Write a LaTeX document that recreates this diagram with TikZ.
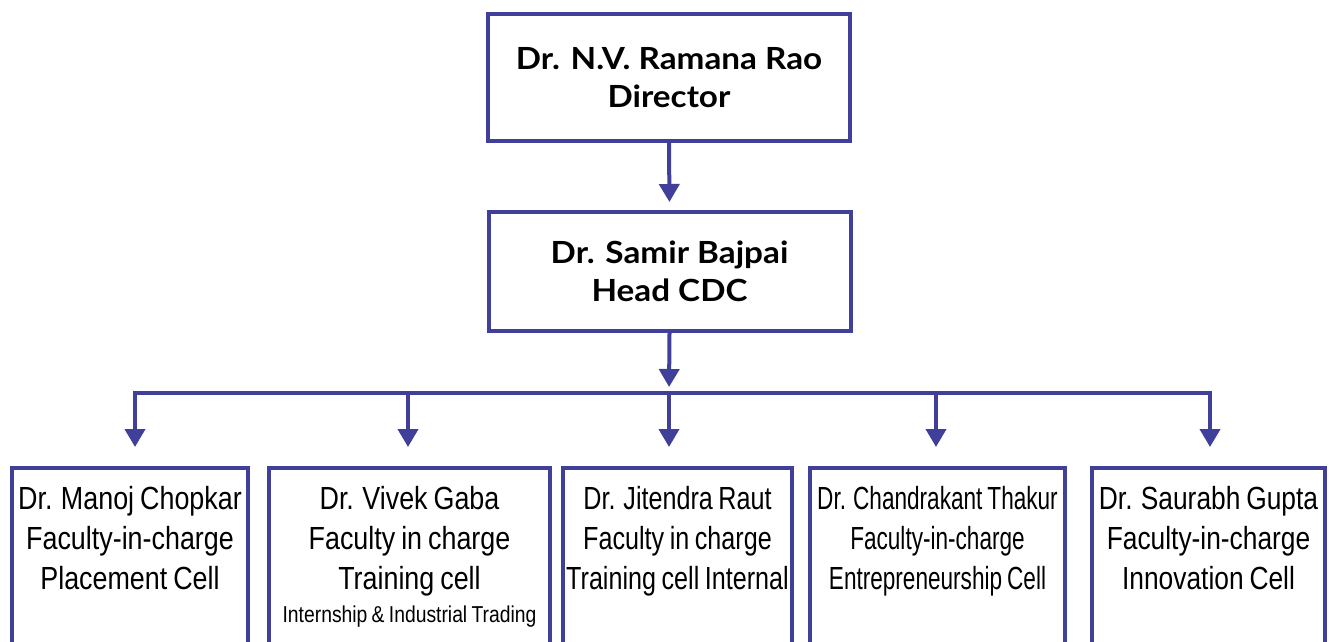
\documentclass[tikz,border=0pt]{standalone}
\usepackage{fontspec}
\usepackage{graphicx}
\setmainfont{Lato}
\newfontfamily\topfont[FakeStretch=1.09]{Lato}
\newfontfamily\condfont[FakeStretch=0.84,WordSpace=0.8]{Liberation Sans}
\usetikzlibrary{arrows.meta}
\definecolor{boxblue}{HTML}{40409A}
\tikzset{
  x=1pt, y=-1pt,
  topbox/.style={draw=boxblue, line width=4pt, fill=white, minimum width=362pt, inner sep=0pt,
    align=center, font=\topfont\fontsize{30.5}{38}\selectfont\bfseries},
  botbox/.style={draw=boxblue, line width=4pt, fill=white, inner sep=0pt, anchor=north},
  conn/.style={draw=boxblue, line width=4pt},
  arr/.style={conn, -{Triangle[width=20pt,length=18pt]}},
}
\newcommand{\botcontent}[3]{\begin{minipage}[t][220pt][t]{#1pt}\centering\condfont\fontsize{32}{40}\selectfont\vspace{13pt}\scalebox{#2}[1]{\begin{tabular}[t]{@{}c@{}}#3\end{tabular}}\end{minipage}}
\begin{document}
\begin{tikzpicture}
\useasboundingbox (0,0) rectangle (1329,641);
\clip (0,0) rectangle (1329,641);
\node[topbox, minimum height=127pt] (dir) at (669,77.5) {Dr. N.V. Ramana Rao\\Director};
\node[topbox, minimum height=119pt] (head) at (669.5,271.5) {Dr. Samir Bajpai\\Head CDC};
\node[botbox] (b1) at (130,466) {\botcontent{236}{1}{Dr. Manoj Chopkar\\Faculty-in-charge\\Placement Cell}};
\node[botbox] (b2) at (409.5,466) {\botcontent{281}{1}{Dr. Vivek Gaba\\Faculty in charge\\Training cell\\[-7pt]\fontsize{23}{28}\selectfont Internship \& Industrial Trading}};
\node[botbox] (b3) at (677.5,466) {\botcontent{229}{0.935}{Dr. Jitendra Raut\\Faculty in charge\\Training cell Internal}};
\node[botbox] (b4) at (937.5,466) {\botcontent{255}{0.84}{Dr. Chandrakant Thakur\\Faculty-in-charge\\Entrepreneurship Cell}};
\node[botbox] (b5) at (1208.5,466) {\botcontent{233}{0.98}{Dr. Saurabh Gupta\\Faculty-in-charge\\Innovation Cell}};
\coordinate (bus) at (669,393);
\coordinate (d1) at (135,393);
\coordinate (d2) at (408,393);
\coordinate (d4) at (936,393);
\coordinate (d5) at (1210,393);
\draw[arr, shorten >=8pt] (dir.south) -- (head.north);
\draw[arr, shorten >=6pt] (head.south) -- (bus);
\draw[arr, shorten >=19pt] (bus) -- (d1) -- (d1 |- b1.north);
\draw[arr, shorten >=19pt] (bus) -- (d5) -- (d5 |- b5.north);
\draw[arr, shorten >=19pt] (d2) -- (d2 |- b2.north);
\draw[arr, shorten >=19pt] (bus) -- (bus |- b3.north);
\draw[arr, shorten >=19pt] (d4) -- (d4 |- b4.north);
\end{tikzpicture}
\end{document}
